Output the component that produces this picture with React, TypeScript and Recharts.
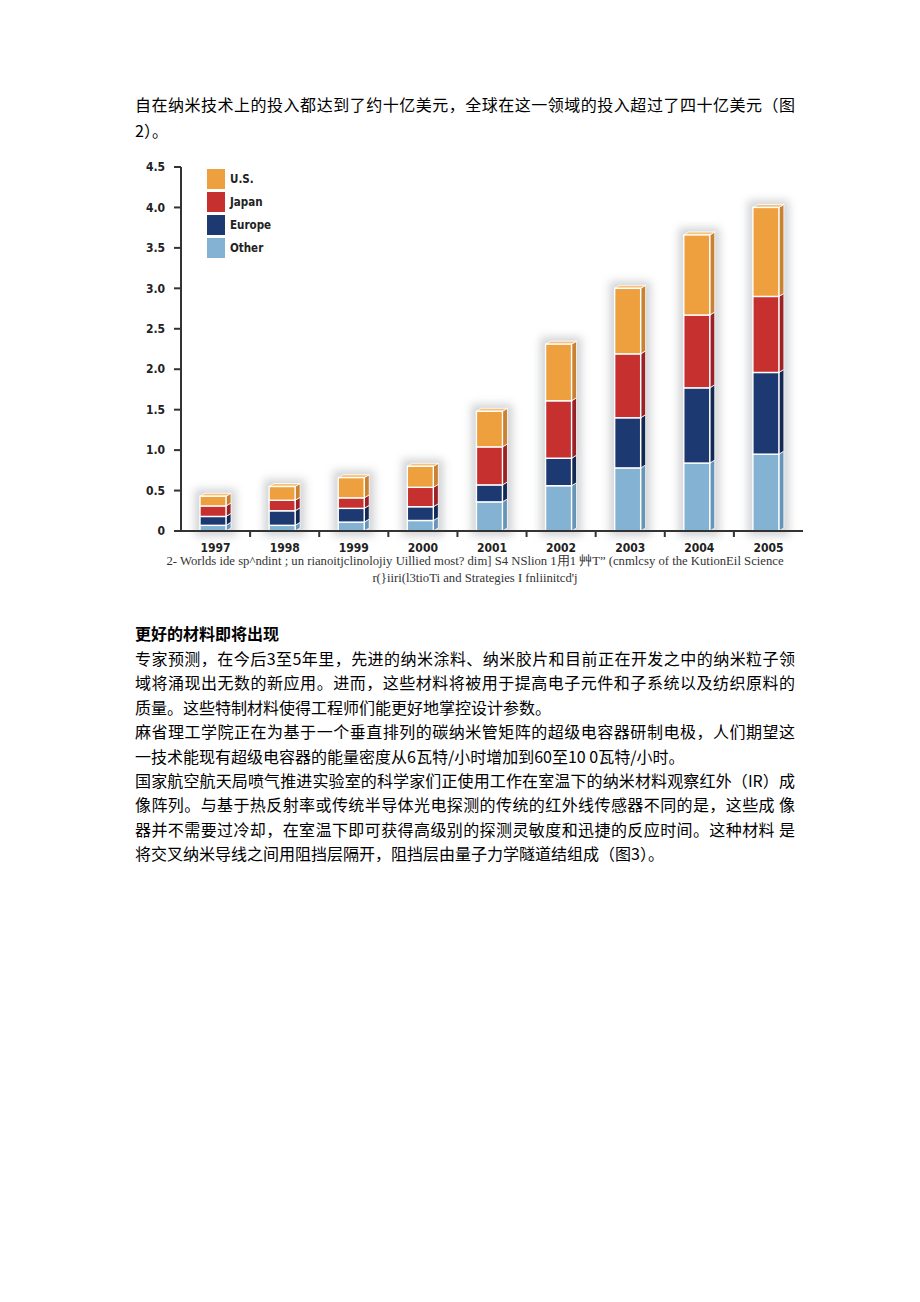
import { BarChart, Bar, XAxis, YAxis, Legend } from 'recharts';

const years = ['1997', '1998', '1999', '2000', '2001', '2002', '2003', '2004', '2005'];
const other = [0.07, 0.07, 0.11, 0.13, 0.36, 0.56, 0.78, 0.84, 0.95];
const europe = [0.11, 0.18, 0.17, 0.17, 0.21, 0.34, 0.62, 0.93, 1.01];
const japan = [0.13, 0.13, 0.13, 0.24, 0.47, 0.71, 0.79, 0.9, 0.94];
const us = [0.12, 0.17, 0.25, 0.26, 0.44, 0.7, 0.81, 0.99, 1.1];
const yTicks = [0, 0.5, 1, 1.5, 2, 2.5, 3, 3.5, 4, 4.5];

const data = years.map((year, i) => ({
  year,
  other: other[i],
  europe: europe[i],
  japan: japan[i],
  us: us[i],
}));

const introLines = [
  '自在纳米技术上的投入都达到了约十亿美元，全球在这一领域的投入超过了四十亿美元（图',
  '2）。',
];
const heading = '更好的材料即将出现';
const bodyLines = [
  '专家预测，在今后3至5年里，先进的纳米涂料、纳米胶片和目前正在开发之中的纳米粒子领',
  '域将涌现出无数的新应用。进而，这些材料将被用于提高电子元件和子系统以及纺织原料的',
  '质量。这些特制材料使得工程师们能更好地掌控设计参数。',
  '麻省理工学院正在为基于一个垂直排列的碳纳米管矩阵的超级电容器研制电极，人们期望这',
  '一技术能现有超级电容器的能量密度从6瓦特/小时增加到60至10 0瓦特/小时。',
  '国家航空航天局喷气推进实验室的科学家们正使用工作在室温下的纳米材料观察红外（IR）成',
  '像阵列。与基于热反射率或传统半导体光电探测的传统的红外线传感器不同的是，这些成 像',
  '器并不需要过冷却，在室温下即可获得高级别的探测灵敏度和迅捷的反应时间。这种材料 是',
  '将交叉纳米导线之间用阻挡层隔开，阻挡层由量子力学隧道结组成（图3）。',
];
const fullLines = [true, true, false, true, false, true, true, true, false];
const caption = [
  '2- Worlds ide sp^ndint ; un rianoitjclinolojiy Uillied most? dim] S4 NSlion 1用1 艸T” (cnmlcsy of the KutionEil Science',
  "r(}iiri(l3tioTi and Strategies I fnliinitcd'j",
];

const series = [
  { key: 'us', name: 'U.S.', front: '#EE9F3E', side: '#C98132', top: '#F5C27E' },
  { key: 'japan', name: 'Japan', front: '#C6302F', side: '#9A2226', top: '#D85A55' },
  { key: 'europe', name: 'Europe', front: '#1D3972', side: '#132853', top: '#3A5590' },
  { key: 'other', name: 'Other', front: '#84B2D3', side: '#6795B8', top: '#A9CBE3' },
];

const CHART_W = 690;
const MARGIN = { top: 17, right: 17, left: 6, bottom: 4 };
const Y_W = 45;
const BAND = (CHART_W - MARGIN.left - MARGIN.right - Y_W) / years.length;
const DEPTH = 5;
const axisFont = "'Liberation Sans Narrow', 'DejaVu Sans Condensed', 'Liberation Sans', sans-serif";

const makeBlock = (s: typeof series[number], withCap: boolean, withShadow: boolean) => (props: any) => {
  const { x, y, width, height, payload } = props;
  if (!height || height <= 0) return <g />;
  const fw = width - DEPTH;
  const up = 3;
  let shadow = null;
  if (withShadow) {
    const ppu = height / payload.other;
    const total = payload.other + payload.europe + payload.japan + payload.us;
    const th = total * ppu;
    shadow = (
      <rect
        x={x - 5}
        y={y + height - th - 7}
        width={width + 10}
        height={th + 12}
        fill='#8d9096'
        opacity={0.4}
        style={{ filter: 'blur(4px)' }}
      />
    );
  }
  return (
    <g>
      {shadow}
      <polygon
        points={`${x + fw},${y} ${x + fw + DEPTH},${y - up} ${x + fw + DEPTH},${y + height - up} ${x + fw},${y + height}`}
        fill={s.side}
        stroke='#fff'
        strokeWidth={0.8}
      />
      {withCap && (
        <polygon
          points={`${x},${y} ${x + DEPTH},${y - up} ${x + fw + DEPTH},${y - up} ${x + fw},${y}`}
          fill={s.top}
          stroke='#fff'
          strokeWidth={0.8}
        />
      )}
      <rect x={x} y={y} width={fw} height={height} fill={s.front} stroke='#fff' strokeWidth={1.4} />
    </g>
  );
};

const XTick = (props: any) => {
  const { x, y, payload, index } = props;
  const last = index === years.length - 1;
  return (
    <g>
      {!last && (
        <line x1={x + BAND / 2} x2={x + BAND / 2} y1={y - 8} y2={y - 2} stroke='#333' strokeWidth={2} />
      )}
      <text
        x={x}
        y={y + 13}
        textAnchor='middle'
        fontFamily={axisFont}
        fontWeight='bold'
        fontSize={12}
        fill='#222'
      >
        {payload.value}
      </text>
    </g>
  );
};

const LegendBox = () => (
  <div style={{ display: 'flex', flexDirection: 'column', gap: 3 }}>
    {series.map((s) => (
      <div key={s.key} style={{ display: 'flex', alignItems: 'center', height: 20 }}>
        <div style={{ width: 18, height: 20, background: s.front }} />
        <span
          style={{
            marginLeft: 5,
            fontFamily: axisFont,
            fontWeight: 'bold',
            fontSize: 11.5,
            color: '#222',
          }}
        >
          {s.name}
        </span>
      </div>
    ))}
  </div>
);

const textFont = "'Noto Sans CJK SC', 'Noto Sans', sans-serif";

export default function App() {
  const stackOrder = [...series].reverse();
  return (
    <div
      style={{
        position: 'absolute',
        left: 0,
        top: 0,
        width: 920,
        height: 1302,
        background: '#fff',
        overflow: 'hidden',
      }}
    >
      <div style={{ position: 'absolute', left: 135, top: 91, fontFamily: textFont, fontSize: 16, color: '#000' }}>
        {introLines.map((l, i) => (
          <div
            key={i}
            style={{
              width: 660,
              height: 26,
              lineHeight: '26px',
              textAlign: i === 0 ? 'justify' : 'left',
              textAlignLast: i === 0 ? 'justify' : 'left',
              whiteSpace: 'nowrap',
            }}
          >
            {l}
          </div>
        ))}
      </div>

      <div style={{ position: 'absolute', left: 130, top: 150 }}>
        <BarChart width={CHART_W} height={410} data={data} margin={MARGIN}>
          <XAxis
            dataKey='year'
            height={25}
            axisLine={{ stroke: '#333', strokeWidth: 2 }}
            tickLine={false}
            tickSize={6}
            tickMargin={2}
            tick={<XTick />}
            interval={0}
          />
          <YAxis
            width={Y_W}
            domain={[0, 4.5]}
            ticks={yTicks}
            tickSize={7}
            tickMargin={9}
            axisLine={{ stroke: '#333', strokeWidth: 2 }}
            tickLine={{ stroke: '#333', strokeWidth: 2 }}
            tickFormatter={(v: number) => (v === 0 ? '0' : v.toFixed(1))}
            tick={{ fontFamily: axisFont, fontWeight: 'bold', fontSize: 12, fill: '#222' }}
            interval={0}
          />
          <Legend
            content={<LegendBox />}
            layout='vertical'
            verticalAlign='middle'
            align='center'
            wrapperStyle={{ top: 19, left: 77, width: 120, transform: 'none' }}
          />
          {stackOrder.map((s) => (
            <Bar
              key={s.key}
              dataKey={s.key}
              name={s.name}
              stackId='a'
              fill={s.front}
              barSize={31}
              isAnimationActive={false}
              shape={makeBlock(s, s.key === 'us', s.key === 'other')}
            />
          ))}
        </BarChart>
      </div>

      <div
        style={{
          position: 'absolute',
          left: 90,
          top: 553,
          width: 770,
          textAlign: 'center',
          fontFamily: "'Liberation Serif', serif",
          fontSize: 12.7,
          lineHeight: '17px',
          color: '#333',
        }}
      >
        {caption.map((c, i) => (
          <div key={i} style={{ whiteSpace: 'nowrap' }}>
            {c}
          </div>
        ))}
      </div>

      <div style={{ position: 'absolute', left: 135, top: 621, fontFamily: textFont, fontSize: 16, color: '#000' }}>
        <div style={{ height: 25, lineHeight: '25px', fontWeight: 'bold' }}>{heading}</div>
        {bodyLines.map((l, i) => (
          <div
            key={i}
            style={{
              width: 660,
              height: 24.4,
              lineHeight: '24.4px',
              textAlign: fullLines[i] ? 'justify' : 'left',
              textAlignLast: fullLines[i] ? 'justify' : 'left',
              whiteSpace: 'nowrap',
            }}
          >
            {l}
          </div>
        ))}
      </div>
    </div>
  );
}
